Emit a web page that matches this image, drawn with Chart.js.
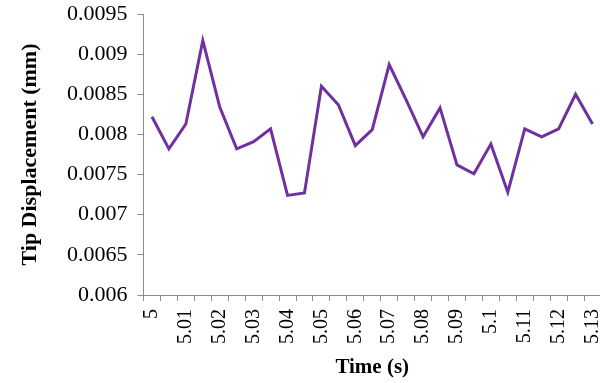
<!DOCTYPE html>
<html>
<head>
<meta charset="utf-8">
<script src="https://cdn.jsdelivr.net/npm/chart.js@4.4.1/dist/chart.umd.min.js"></script>
<style>
  html, body { margin: 0; padding: 0; background: #ffffff; overflow: hidden; width: 600px; height: 383px; }
  #wrap { position: relative; width: 614px; height: 383px; }
</style>
</head>
<body>
<div id="wrap"><canvas id="chart" width="614" height="383"></canvas></div>
<script>
// Sample times (s), one every 0.005 s
const categories = [
  '5', '5.005', '5.01', '5.015', '5.02', '5.025', '5.03', '5.035', '5.04',
  '5.045', '5.05', '5.055', '5.06', '5.065', '5.07', '5.075', '5.08', '5.085',
  '5.09', '5.095', '5.1', '5.105', '5.11', '5.115', '5.12', '5.125', '5.13'
];

// Times that get a label on the horizontal axis
const tickLabels = [
  '5', '5.01', '5.02', '5.03', '5.04', '5.05', '5.06',
  '5.07', '5.08', '5.09', '5.1', '5.11', '5.12', '5.13'
];

// Tip displacement (mm) at each sample time
const displacement = [
  0.00822, 0.00782, 0.00813, 0.00917, 0.00834, 0.00782, 0.00791, 0.00807, 0.00724,
  0.00727, 0.00860, 0.00837, 0.00786, 0.00806, 0.00887, 0.00843, 0.00797, 0.00833,
  0.00762, 0.00751, 0.00788, 0.00728, 0.00807, 0.00797, 0.00807, 0.00850, 0.00813
];

// Vertical axis range and step
const yMin = 0.006;
const yMax = 0.0095;
const yStep = 0.0005;

const AXIS_GREY = '#8c8c8c';
const SERIF = "'Liberation Serif', 'Times New Roman', serif";

new Chart(document.getElementById('chart'), {
  type: 'line',
  data: {
    labels: categories,
    datasets: [{
      data: displacement,
      borderColor: '#7030a0',
      borderWidth: 3,
      pointRadius: 0,
      tension: 0,
      fill: false
    }]
  },
  options: {
    responsive: false,
    animation: false,
    devicePixelRatio: 1,
    layout: { padding: { left: 0, top: 14, right: 13, bottom: 0 } },
    plugins: { legend: { display: false }, tooltip: { enabled: false } },
    scales: {
      x: {
        offset: true,
        grid: { offset: true, drawOnChartArea: false, tickLength: 6, color: AXIS_GREY, lineWidth: 1 },
        border: { color: AXIS_GREY, width: 1 },
        ticks: {
          autoSkip: false,
          minRotation: 90,
          maxRotation: 90,
          padding: 8,
          color: '#000000',
          font: { family: SERIF, size: 20 },
          callback: function (value, index) {
            const lab = categories[index];
            return tickLabels.includes(lab) ? lab : '';
          }
        },
        title: {
          display: true,
          text: 'Time (s)',
          color: '#000000',
          font: { family: SERIF, size: 21, weight: 'bold' },
          padding: { top: 0, bottom: 3 }
        },
        afterFit: function (scale) {
          scale.height = 88;
          scale.paddingLeft = 0;
          scale.paddingRight = 0;
        }
      },
      y: {
        min: yMin,
        max: yMax,
        grid: { drawOnChartArea: false, tickLength: 6, color: AXIS_GREY, lineWidth: 1 },
        border: { color: AXIS_GREY, width: 1 },
        ticks: {
          stepSize: yStep,
          padding: 10,
          color: '#000000',
          font: { family: SERIF, size: 22 },
          callback: function (value) { return String(Number(value.toFixed(4))); }
        },
        title: {
          display: true,
          text: 'Tip Displacement (mm)',
          color: '#000000',
          font: { family: SERIF, size: 22, weight: 'bold' },
          padding: { top: 17, bottom: 0 }
        },
        afterFit: function (scale) {
          scale.width = 143.5;
          scale.paddingTop = 0;
          scale.paddingBottom = 0;
        }
      }
    }
  }
});
</script>
</body>
</html>
